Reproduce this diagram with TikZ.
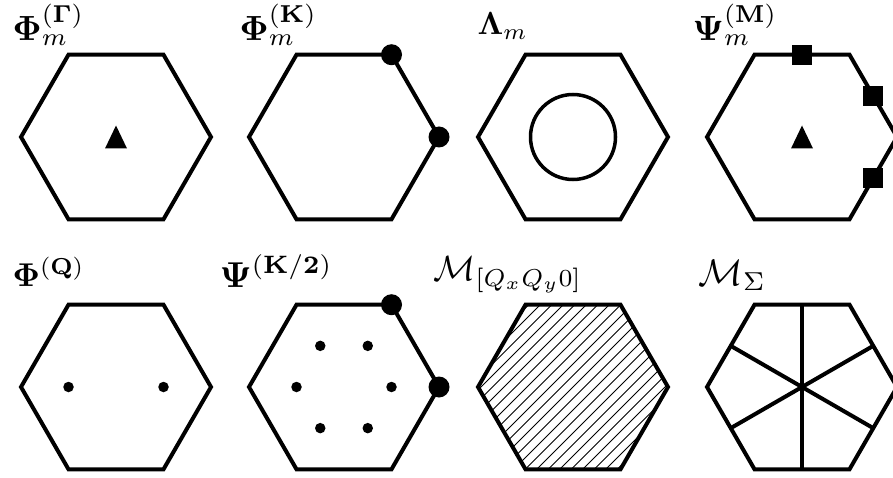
\documentclass[tikz,border=0pt]{standalone}
\usepackage{amsmath}
\usetikzlibrary{positioning}

\tikzset{
  hexline/.style={line width=4pt, line join=miter},
  hatch/.style={line width=0.9pt},
  lbl/.style={anchor=base west, inner sep=0pt, scale=#1, transform shape},
  kdot/.style={circle, fill=black, inner sep=0pt, minimum size=21pt},
  sdot/.style={circle, fill=black, inner sep=0pt, minimum size=10.5pt},
  msq/.style={rectangle, fill=black, inner sep=0pt, minimum size=20pt},
}

\begin{document}
\begin{tikzpicture}[x=1pt,y=1pt]
  \useasboundingbox (0,0) rectangle (893,477);

  % centres of the zones
  \coordinate (h1) at (116,340);
  \coordinate (h2) at (344,340);
  \coordinate (h3) at (573,340);
  \coordinate (h4) at (802,340);
  \coordinate (h5) at (116,90);
  \coordinate (h6) at (344,90);
  \coordinate (h7) at (573,90);
  \coordinate (h8) at (802,90);

  % hatching
  \begin{scope}
    \clip (h7) +(0:95) -- +(60:95) -- +(120:95) -- +(180:95) -- +(240:95) -- +(300:95) -- cycle;
    \foreach \d in {-207,-195.5,...,207}
      \draw[hatch] (h7) ++(\d,0) ++(-100,-100) -- ++(200,200);
  \end{scope}

  % star
  \foreach \a in {30,90,150}
    \draw[hexline] (h8) +(\a:82.3) -- +(\a+180:82.3);

  \foreach \c in {h1,h2,h3,h4,h5,h6,h7,h8}
    \draw[hexline] (\c) +(0:95) -- +(60:95) -- +(120:95) -- +(180:95) -- +(240:95) -- +(300:95) -- cycle;

  \draw[line width=3.5pt] (h3) circle (42.5);

  \fill (h1) ++(-11,-11.5) -- ++(22,0) -- ++(-11,23) -- cycle;
  \fill (h4) ++(-11,-11.5) -- ++(22,0) -- ++(-11,23) -- cycle;

  \node[kdot] (k1) at ([shift={(60:95)}]h2) {};
  \node[kdot] (k2) at ([shift={(0:95)}]h2) {};
  \node[kdot] (k3) at ([shift={(60:95)}]h6) {};
  \node[kdot] (k4) at ([shift={(0:95)}]h6) {};

  \node[msq] (m1) at ([shift={(90:82.3)}]h4) {};
  \node[msq] (m2) at ([shift={(30:82.3)}]h4) {};
  \node[msq] (m3) at ([shift={(-30:82.3)}]h4) {};

  \node[sdot] (q1) at ([shift={(0:47.5)}]h5) {};
  \node[sdot] (q2) at ([shift={(180:47.5)}]h5) {};
  \foreach \a in {0,60,...,300}
    \node[sdot] (p\a) at ([shift={(\a:47.5)}]h6) {};

  % labels
  \node[lbl=3.5] (l1) at (12,436) {$\mathbf{\Phi}_m^{(\mathbf{\Gamma})}$};
  \node[lbl=3.5] (l2) at (239,436) {$\mathbf{\Phi}_m^{(\mathbf{K})}$};
  \node[lbl=3.2] (l3) at (477,442) {$\mathbf{\Lambda}_m$};
  \node[lbl=3.5] (l4) at (692,436) {$\mathbf{\Psi}_m^{(\mathbf{M})}$};
  \node[lbl=3.3] (l5) at (12,191) {$\mathbf{\Phi}^{(\mathbf{Q})}$};
  \node[lbl=3.6] (l6) at (219,190) {$\mathbf{\Psi}^{(\mathbf{K/2})}$};
  \node[lbl=3.5] (l7) at (433,197) {$\mathcal{M}_{[Q_xQ_y0]}$};
  \node[lbl=3.7] (l8) at (698,192) {$\mathcal{M}_{\Sigma}$};
\end{tikzpicture}
\end{document}
